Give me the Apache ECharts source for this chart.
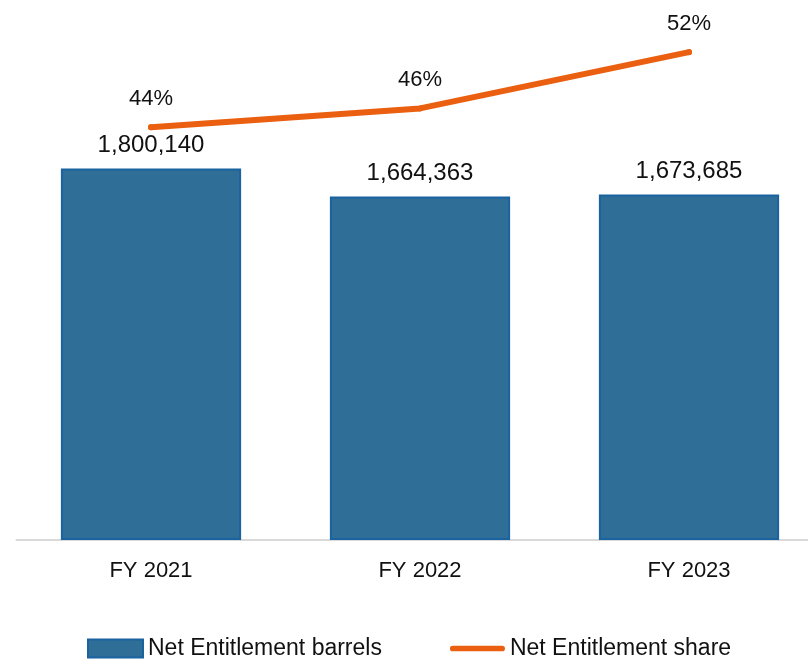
<!DOCTYPE html>
<html>
<head>
<meta charset="utf-8">
<script src="https://cdn.jsdelivr.net/npm/echarts@6/dist/echarts.min.js"></script>
<style>
  html, body { margin: 0; padding: 0; background: #fff; }
  #chart { width: 808px; height: 660px; }
</style>
</head>
<body>
<div id="chart"></div>
<script>
// data
const years = ['FY 2021', 'FY 2022', 'FY 2023'];
const barrels = [1800140, 1664363, 1673685];
const sharePct = [44, 46, 52];

const FONT = '"Liberation Sans", Arial, sans-serif';
const BAR_COLOR = '#2E6E97';
const BAR_BORDER = '#1B62A0';
const LINE_COLOR = '#EA5F10';

const fmtNum = v => v.toLocaleString('en-US');

const option = {
    animation: false,
    textStyle: { fontFamily: FONT },
    legend: {
        top: 632,
        left: 82,
        itemWidth: 55,
        itemHeight: 18,
        itemGap: 68,
        textStyle: { fontSize: 23, color: '#111', fontFamily: FONT },
        data: [
            { name: 'Net Entitlement barrels', icon: 'rect',
              itemStyle: { borderColor: BAR_BORDER, borderWidth: 2 } },
            // thin rounded bar so the legend shows just the line
            { name: 'Net Entitlement share',
              icon: 'path://M3,0 H55 A3,3 0 0 1 55,6 H3 A3,3 0 0 1 3,0 Z' }
        ]
    },
    grid: {
        left: 16.5,
        top: 24,
        width: 807,
        height: 516,
        containLabel: false,
        outerBoundsMode: 'none'
    },
    xAxis: [{
        type: 'category',
        data: years,
        axisTick: { show: false },
        axisLine: { lineStyle: { color: '#d9d9d9', width: 2 } },
        axisLabel: { fontSize: 22, color: '#111', margin: 20, fontFamily: FONT }
    }],
    yAxis: [{
        type: 'value',
        min: 0,
        max: 2500000,
        show: false,
        splitLine: { show: false }
    }, {
        type: 'value',
        min: 0,
        max: 55,
        show: false,
        splitLine: { show: false }
    }],
    series: [{
        name: 'Net Entitlement barrels',
        type: 'bar',
        barWidth: '67%',
        data: barrels,
        itemStyle: { color: BAR_COLOR, borderColor: BAR_BORDER, borderWidth: 2 },
        label: {
            show: true,
            position: 'top',
            distance: 11,
            fontSize: 24,
            color: '#111',
            fontFamily: FONT,
            formatter: p => fmtNum(p.value)
        }
    }, {
        name: 'Net Entitlement share',
        type: 'line',
        yAxisIndex: 1,
        data: sharePct,
        symbol: 'circle',
        symbolSize: 6,
        lineStyle: { color: LINE_COLOR, width: 6, cap: 'round' },
        itemStyle: { color: LINE_COLOR },
        label: {
            show: true,
            position: 'top',
            distance: 14.5,
            fontSize: 22,
            color: '#111',
            fontFamily: FONT,
            formatter: '{c}%'
        }
    }]
};

const chart = echarts.init(document.getElementById('chart'));
chart.setOption(option);
</script>
</body>
</html>
